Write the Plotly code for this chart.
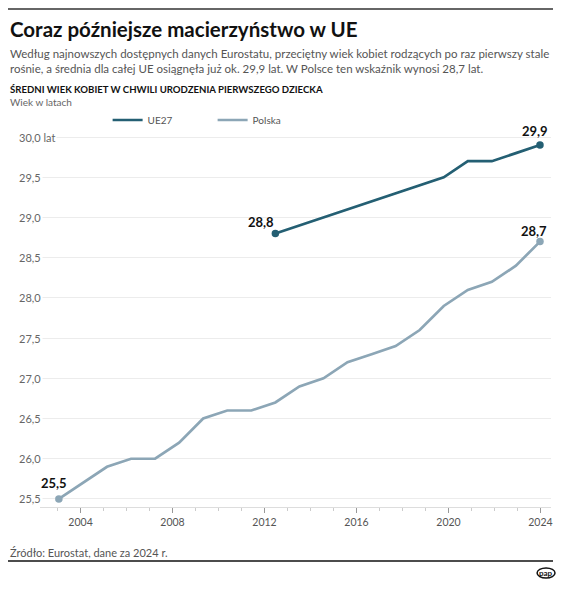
import plotly.graph_objects as go

# ---- data ----
years_pl = list(range(2004, 2025))
polska = [25.5, 25.7, 25.9, 26.0, 26.0, 26.2, 26.5, 26.6, 26.6, 26.7, 26.9,
          27.0, 27.2, 27.3, 27.4, 27.6, 27.9, 28.1, 28.2, 28.4, 28.7]
years_eu = list(range(2013, 2025))
ue27 = [28.8, 28.9, 29.0, 29.1, 29.2, 29.3, 29.4, 29.5, 29.7, 29.7, 29.8, 29.9]
x_tick_years = [2004, 2008, 2012, 2016, 2020, 2024]
y_ticks = [25.5, 26.0, 26.5, 27.0, 27.5, 28.0, 28.5, 29.0, 29.5, 30.0]

W, H = 564, 596
FONT = "Lato"
C_EU = "#245f73"
C_PL = "#8ca6b6"


def px(x):
    return x / W


def py(y):
    return 1 - y / H


def fmt(v):
    return f"{v:.1f}".replace(".", ",")


fig = go.Figure()
for name, xs, ys, col in [("UE27", years_eu, ue27, C_EU), ("Polska", years_pl, polska, C_PL)]:
    fig.add_trace(go.Scatter(
        x=xs, y=ys, name=name, mode="lines",
        line=dict(color=col, width=2.7), hoverinfo="skip"))
    fig.add_trace(go.Scatter(
        x=[xs[0], xs[-1]], y=[ys[0], ys[-1]], mode="markers", showlegend=False,
        marker=dict(size=7.5, color=col), hoverinfo="skip"))

# invisible helper trace for the tick axis
fig.add_trace(go.Scatter(
    x=x_tick_years, y=[y_ticks[0]] * len(x_tick_years), xaxis="x2",
    mode="markers", marker=dict(opacity=0), showlegend=False, hoverinfo="skip"))

annotations = []
# y tick labels
for v in y_ticks:
    t = fmt(v) + (" lat" if v == y_ticks[-1] else "")
    annotations.append(dict(x=px(17), xref="paper", y=v, yref="y", text=t,
                            showarrow=False, xanchor="left", yanchor="middle",
                            font=dict(family=FONT, size=11, color="#666666"),
                            bgcolor="white", borderpad=1))

# value labels
def val_label(x, y, dx, dy):
    return dict(x=x, y=y, xref="x", yref="y", text=f"<b>{fmt(y)}</b>",
                showarrow=False, xshift=dx, yshift=dy,
                font=dict(family=FONT, size=13, color="#111111"))

annotations += [
    val_label(years_eu[0], ue27[0], -14, 12),
    val_label(years_eu[-1], ue27[-1], -5, 14),
    val_label(years_pl[0], polska[0], -5, 16),
    val_label(years_pl[-1], polska[-1], -6, 11),
]

# texts
annotations += [
    dict(x=px(8), y=py(29), xref="paper", yref="paper", xanchor="left", yanchor="middle",
         text="<b>Coraz późniejsze macierzyństwo w UE</b>", showarrow=False,
         font=dict(family=FONT, size=20.5, color="#111111")),
    dict(x=px(8), y=py(61), xref="paper", yref="paper", xanchor="left", yanchor="middle",
         text="Według najnowszych dostępnych danych Eurostatu, przeciętny wiek kobiet rodzących po raz pierwszy stale<br>"
              "rośnie, a średnia dla całej UE osiągnęła już ok. 29,9 lat. W Polsce ten wskaźnik wynosi 28,7 lat.",
         showarrow=False, align="left",
         font=dict(family=FONT, size=11.5, color="#555555")),
    dict(x=px(8), y=py(89), xref="paper", yref="paper", xanchor="left", yanchor="middle",
         text="<b>ŚREDNI WIEK KOBIET W CHWILI URODZENIA PIERWSZEGO DZIECKA</b>", showarrow=False,
         font=dict(family=FONT, size=9.6, color="#111111")),
    dict(x=px(8), y=py(102), xref="paper", yref="paper", xanchor="left", yanchor="middle",
         text="Wiek w latach", showarrow=False,
         font=dict(family=FONT, size=10, color="#666666")),
    dict(x=px(8), y=py(552), xref="paper", yref="paper", xanchor="left", yanchor="middle",
         text="Źródło: Eurostat, dane za 2024 r.", showarrow=False,
         font=dict(family=FONT, size=11, color="#555555")),
    dict(x=px(548), y=py(573), xref="paper", yref="paper", xanchor="center", yanchor="middle",
         text="<b>pap</b>", showarrow=False,
         font=dict(family=FONT, size=8, color="#111111")),
]

shapes = [
    dict(type="line", xref="paper", yref="paper", x0=px(8), x1=px(555), y0=py(9), y1=py(9),
         line=dict(color="#333333", width=1.5)),
    dict(type="line", xref="paper", yref="paper", x0=px(8), x1=px(555), y0=py(561), y1=py(561),
         line=dict(color="#111111", width=1.5)),
    dict(type="circle", xref="paper", yref="paper", x0=px(539), x1=px(557), y0=py(568), y1=py(578),
         line=dict(color="#111111", width=1.5)),
]

fig.update_layout(
    width=W, height=H, margin=dict(l=0, r=0, t=0, b=0),
    paper_bgcolor="white", plot_bgcolor="white",
    font=dict(family=FONT),
    showlegend=True,
    legend=dict(orientation="h", x=px(108), y=py(120), xanchor="left", yanchor="middle",
                font=dict(family=FONT, size=10, color="#555555"),
                entrywidth=60, entrywidthmode="pixels", bgcolor="rgba(0,0,0,0)"),
    xaxis=dict(domain=[px(40), px(553)], range=[2003.21, 2024.46],
               showticklabels=False, showgrid=False, zeroline=False, showline=False, ticks=""),
    xaxis2=dict(overlaying="x", anchor="y", side="bottom", range=[2002.23, 2024.46],
                tickmode="array", tickvals=x_tick_years, ticktext=[str(y) for y in x_tick_years],
                ticks="outside", ticklen=5, tickcolor="#999999", tickwidth=1,
                minor=dict(dtick=1, tick0=2004, ticks="outside", ticklen=3, tickcolor="#cccccc"),
                showline=True, linecolor="#dddddd", linewidth=1,
                showgrid=False, zeroline=False,
                tickfont=dict(family=FONT, size=10.5, color="#555555")),
    yaxis=dict(domain=[py(507), py(130.6)], range=[25.4, 30.08],
               tickmode="array", tickvals=y_ticks, showticklabels=False,
               showgrid=True, gridcolor="#ececec", gridwidth=1, zeroline=False, ticks=""),
    annotations=annotations, shapes=shapes,
)

fig.write_html("out.html")
